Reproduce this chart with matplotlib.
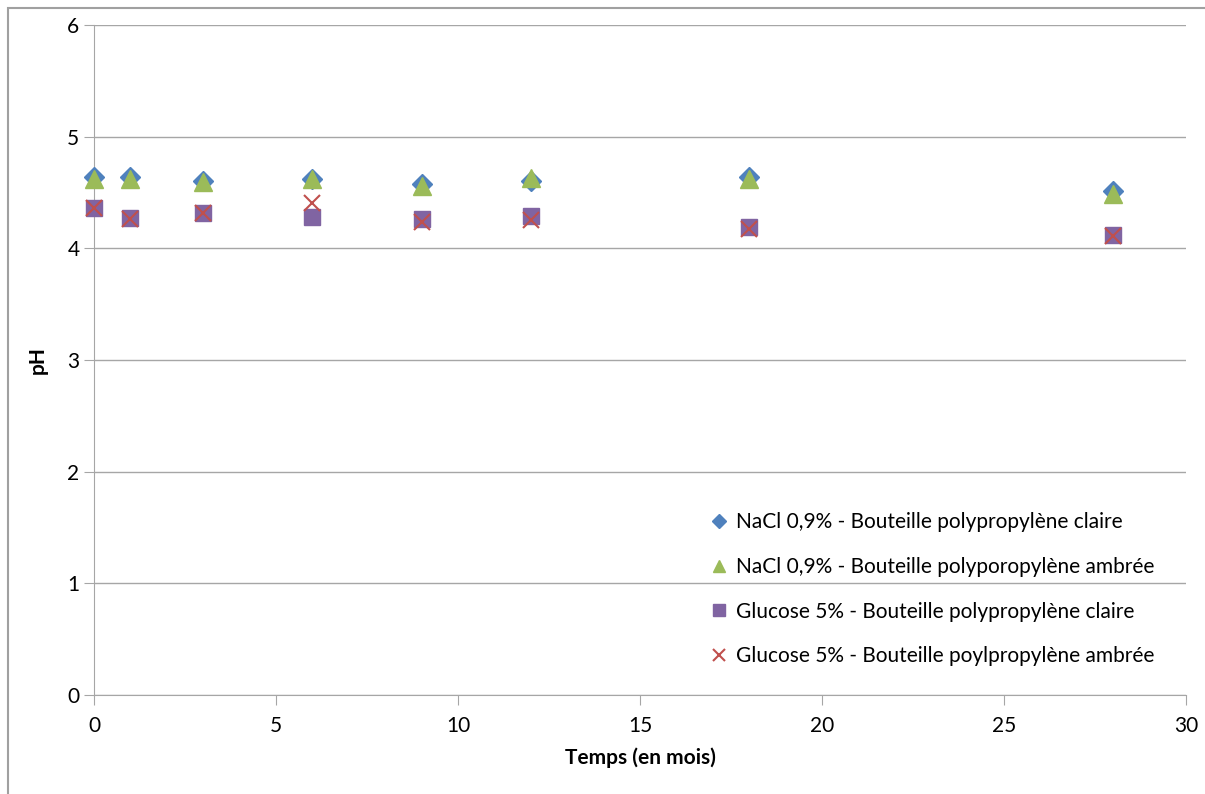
import matplotlib
matplotlib.use('Agg')
import matplotlib.pyplot as plt
from matplotlib.patches import Rectangle

plt.rcParams['font.family'] = ['Lato', 'DejaVu Sans']

# Données : temps (mois) et pH
temps = [0, 1, 3, 6, 9, 12, 18, 28]
nacl_claire = [4.64, 4.64, 4.60, 4.62, 4.58, 4.60, 4.64, 4.51]
nacl_ambree = [4.62, 4.62, 4.59, 4.62, 4.56, 4.63, 4.62, 4.49]
glucose_claire = [4.36, 4.27, 4.32, 4.28, 4.26, 4.29, 4.19, 4.12]
glucose_ambree = [4.36, 4.26, 4.32, 4.41, 4.24, 4.25, 4.17, 4.11]

labels = ['NaCl 0,9% - Bouteille polypropylène claire',
          'NaCl 0,9% - Bouteille polyporopylène ambrée',
          'Glucose 5% - Bouteille polypropylène claire',
          'Glucose 5% - Bouteille poylpropylène ambrée']

fig = plt.figure(figsize=(12.05, 7.94), dpi=100)
ax = fig.add_axes([0.078, 0.1247, 0.9062, 0.8438])

# cadre extérieur du graphique
fig.patches.append(Rectangle((8 / 1205, -0.1), 1.1, (794 - 8) / 794 + 0.1,
                             transform=fig.transFigure, fill=False,
                             edgecolor='#a0a0a0', linewidth=1.5))

ax.plot(temps, nacl_claire, 'D', color='#4f81bd', ms=10, label=labels[0], zorder=3, clip_on=False)
ax.plot(temps, nacl_ambree, '^', color='#9bbb59', ms=13, label=labels[1], zorder=4, clip_on=False)
ax.plot(temps, glucose_claire, 's', color='#8064a2', ms=12, label=labels[2], zorder=3, clip_on=False)
ax.plot(temps, glucose_ambree, 'x', color='#c0504d', ms=12, mew=1.5, label=labels[3], zorder=4, clip_on=False)

ax.set_xlim(0, 30)
ax.set_ylim(0, 6)
ax.set_xticks(range(0, 31, 5))
ax.set_yticks(range(0, 7))
ax.yaxis.grid(True, color='#a6a6a6', linewidth=1)
ax.set_axisbelow(True)
for s in ['top', 'right']:
    ax.spines[s].set_visible(False)
for s in ['left', 'bottom']:
    ax.spines[s].set_color('#a6a6a6')
ax.tick_params(axis='both', colors='#a6a6a6', labelcolor='black', labelsize=15,
               length=7, direction='out')
ax.tick_params(axis='x', pad=8)

ax.set_xlabel('Temps (en mois)', fontsize=15, fontweight='bold', labelpad=8)
ax.set_ylabel('pH', fontsize=15, fontweight='bold', labelpad=14)

ax.legend(loc='lower right', bbox_to_anchor=(0.988, 0.015), frameon=False,
          fontsize=15, labelspacing=1.18, handletextpad=0.3, handlelength=1.0,
          markerscale=0.7)

fig.savefig('out.png', dpi=100)
